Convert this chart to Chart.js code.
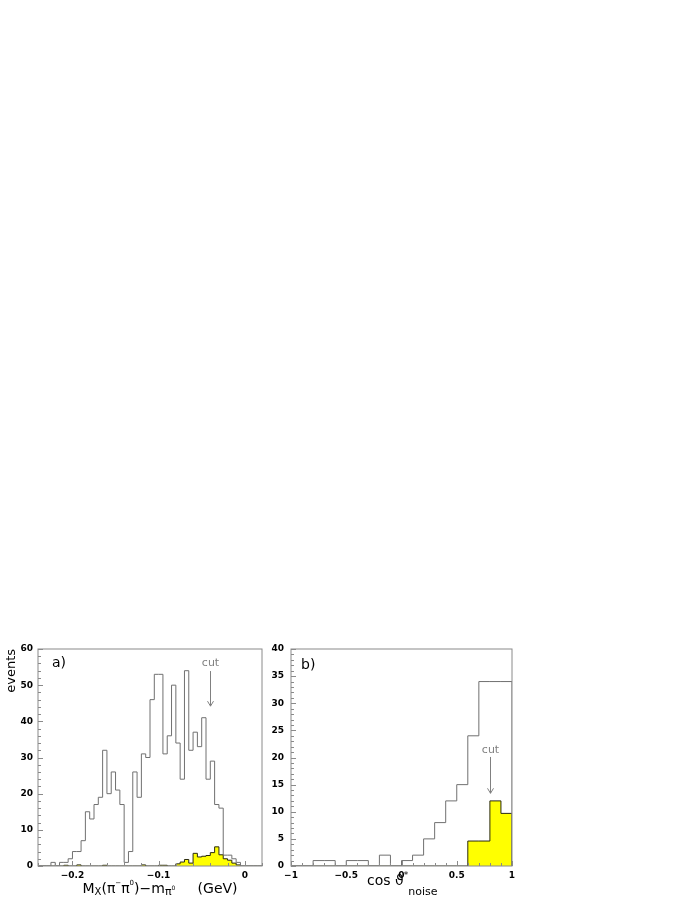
<!DOCTYPE html>
<html>
<head>
<meta charset="utf-8">
<script src="https://cdn.jsdelivr.net/npm/chart.js@4.4.0/dist/chart.umd.min.js"></script>
<style>
  body { margin: 0; width: 698px; height: 903px; background: #fff; position: relative; overflow: hidden; }
  canvas { position: absolute; top: 630px; }
</style>
</head>
<body>
<canvas id="chartA" width="270" height="273" style="left:0px"></canvas>
<canvas id="chartB" width="260" height="273" style="left:268px"></canvas>
<script>
/* a) M_X(pi- pi0) - m_pi0, bins of 5 MeV from -0.24 to 0.02 GeV */
const binLoA = -0.24;
const binWidthA = 0.005;
const countsA = [0, 0, 0, 1, 0, 1, 1, 2, 4, 4,
                 7, 15, 13, 17, 19, 32, 20, 26, 21, 17,
                 1, 4, 26, 19, 31, 30, 46, 53, 53, 31,
                 36, 50, 34, 24, 54, 32, 37, 33, 41, 24,
                 29, 17, 16, 3, 3, 2, 1, 0, 0, 0,
                 0, 0];
const signalA = [0, 0, 0, 0, 0, 0, 0.2, 0, 0, 0.3,
                 0, 0, 0, 0, 0, 0.2, 0, 0, 0, 0,
                 0, 0, 0, 0, 0.3, 0, 0, 0, 0.2, 0.2,
                 0, 0, 0.6, 1.1, 1.8, 0.8, 3.5, 2.5, 2.7, 2.9,
                 3.7, 5.3, 3.1, 2.0, 1.6, 0.8, 0.3, 0, 0, 0,
                 0, 0];
const xTicksA = [-0.2, -0.1, 0];
const yTicksA = [0, 10, 20, 30, 40, 50, 60];
const cutA = { x: -0.04, label: 55.3, from: 53.9, to: 44.2 };

/* b) cos theta*_noise, bins of 0.1 */
const binLoB = -1;
const binWidthB = 0.1;
const countsB = [0, 0, 1, 1, 0, 1, 1, 0, 2, 0,
                 1, 2, 5, 8, 12, 15, 24, 34, 34, 34];
const signalB = [0, 0, 0, 0, 0, 0, 0, 0, 0, 0,
                 0, 0, 0, 0, 0, 0, 4.6, 4.6, 12, 9.7];
const xTicksB = [-1, -0.5, 0, 0.5, 1];
const yTicksB = [0, 5, 10, 15, 20, 25, 30, 35, 40];
const cutB = { x: 0.8, label: 20.8, from: 20.1, to: 13.4 };

const FONT = '"DejaVu Sans"';
const frameColor = '#8a8a8a';
const histColor = '#707070';

// puntos de un histograma (escalon) a partir de los contenidos de los bins
const histPoints = (lo, w, counts) => {
    const n = counts.length;
    const pts = [{ x: lo, y: 0 }];
    counts.forEach((c, i) => pts.push({ x: lo + i * w, y: c }));
    pts.push({ x: lo + n * w, y: counts[n - 1] });
    pts.push({ x: lo + n * w, y: 0 });
    return pts;
};

const fmt = (v) => (v === 0 ? '0' : String(+v.toFixed(2)).replace('-', '\u2212'));

// texto con sub/superindices: [texto, tamaño, desplazamiento vertical]
const drawSegments = (ctx, x, y, segs) => {
    segs.forEach(([txt, size, dy]) => {
        ctx.font = size + 'px ' + FONT;
        ctx.fillText(txt, x, y + dy);
        x += ctx.measureText(txt).width;
    });
};

const isMajor = (v, list) => list.some(t => Math.abs(t - v) < 1e-9);

const deco = (o) => ({
    id: 'deco' + o.name,
    afterDatasetsDraw(chart) {
        const { ctx, chartArea: a, scales: { x, y } } = chart;
        ctx.save();
        ctx.strokeStyle = frameColor;
        ctx.lineWidth = 1;
        ctx.strokeRect(a.left, a.top, a.right - a.left, a.bottom - a.top);

        // marcas hacia adentro
        ctx.beginPath();
        for (let i = 0; ; i++) {
            const v = o.xMin + i * o.xMinor;
            if (v > o.xMax + 1e-9) break;
            const px = Math.round(x.getPixelForValue(v)) + 0.5;
            const len = isMajor(v, o.xTicks) ? 5 : 3;
            ctx.moveTo(px, a.bottom);
            ctx.lineTo(px, a.bottom - len);
        }
        for (let i = 0; ; i++) {
            const v = i * o.yMinor;
            if (v > o.yMax + 1e-9) break;
            const py = Math.round(y.getPixelForValue(v)) + 0.5;
            const len = isMajor(v, o.yTicks) ? 5 : 3;
            ctx.moveTo(a.left, py);
            ctx.lineTo(a.left + len, py);
        }
        ctx.stroke();

        // flecha "cut"
        const cx = Math.round(x.getPixelForValue(o.cut.x)) + 0.5;
        const y0 = y.getPixelForValue(o.cut.from);
        const y1 = y.getPixelForValue(o.cut.to);
        ctx.strokeStyle = '#808080';
        ctx.fillStyle = '#808080';
        ctx.font = '11px ' + FONT;
        ctx.textAlign = 'center';
        ctx.textBaseline = 'alphabetic';
        ctx.fillText('cut', cx, y.getPixelForValue(o.cut.label));
        ctx.beginPath();
        ctx.moveTo(cx, y0);
        ctx.lineTo(cx, y1);
        ctx.moveTo(cx - 3, y1 - 5);
        ctx.lineTo(cx, y1);
        ctx.lineTo(cx + 3, y1 - 5);
        ctx.stroke();

        ctx.fillStyle = '#000';
        ctx.textAlign = 'left';
        o.texts(ctx);
        ctx.restore();
    }
});

const tickFont = { family: 'DejaVu Sans', size: 9, weight: 'bold' };

const makePanel = (id, o) => new Chart(document.getElementById(id), {
    type: 'line',
    data: {
        datasets: [
            {
                data: histPoints(o.lo, o.w, o.counts),
                stepped: true,
                borderColor: histColor,
                borderWidth: 1,
                pointRadius: 0,
                fill: false
            },
            {
                data: histPoints(o.lo, o.w, o.signal),
                stepped: true,
                borderColor: '#2a2a10',
                borderWidth: 1,
                pointRadius: 0,
                fill: 'origin',
                backgroundColor: '#ffff00'
            }
        ]
    },
    options: {
        responsive: false,
        animation: false,
        layout: { padding: { top: 19, right: o.padRight, left: 0, bottom: 0 } },
        plugins: { legend: { display: false }, tooltip: { enabled: false } },
        scales: {
            x: {
                type: 'linear',
                min: o.xMin,
                max: o.xMax,
                grid: { display: false, drawTicks: false },
                border: { display: false },
                afterFit: s => { s.height = 37; },
                afterBuildTicks: s => { s.ticks = o.xTicks.map(v => ({ value: v })); },
                ticks: {
                    autoSkip: false, maxRotation: 0, padding: 4, color: '#000',
                    font: tickFont,
                    callback: v => fmt(v)
                }
            },
            y: {
                type: 'linear',
                min: 0,
                max: o.yMax,
                grid: { display: false, drawTicks: false },
                border: { display: false },
                afterFit: s => { s.width = o.yWidth; },
                afterBuildTicks: s => { s.ticks = o.yTicks.map(v => ({ value: v })); },
                ticks: {
                    padding: o.yPad, color: '#000',
                    font: tickFont,
                    callback: v => fmt(v)
                }
            }
        }
    },
    plugins: [deco(o)]
});

makePanel('chartA', {
    name: 'A', lo: binLoA, w: binWidthA, counts: countsA, signal: signalA,
    xMin: -0.24, xMax: 0.02, xMinor: 0.02, xTicks: xTicksA,
    yMax: 60, yMinor: 2, yTicks: yTicksA,
    yWidth: 38, yPad: 5, padRight: 8, cut: cutA,
    texts: (ctx) => {
        ctx.font = '14px ' + FONT;
        ctx.fillText('a)', 52, 36.6);
        ctx.save();
        ctx.translate(15, 19);
        ctx.rotate(-Math.PI / 2);
        ctx.textAlign = 'right';
        ctx.font = '13px ' + FONT;
        ctx.fillText('events', 0, 0);
        ctx.restore();
        drawSegments(ctx, 82.5, 263, [
            ['M', 14, 0], ['X', 10, 2], ['(\u03c0', 14, 0], ['\u2212', 7, -8],
            ['\u03c0', 14, 0], ['0', 7, -8], [')', 14, 0], ['\u2212', 14, 0],
            ['m', 14, 0], ['\u03c0', 11, 2], ['0', 6, -3], ['     (GeV)', 14, 0]
        ]);
    }
});

makePanel('chartB', {
    name: 'B', lo: binLoB, w: binWidthB, counts: countsB, signal: signalB,
    xMin: -1, xMax: 1, xMinor: 0.1, xTicks: xTicksB,
    yMax: 40, yMinor: 1, yTicks: yTicksB,
    yWidth: 23, yPad: 7, padRight: 16, cut: cutB,
    texts: (ctx) => {
        ctx.font = '14px ' + FONT;
        ctx.fillText('b)', 33, 38.6);
        drawSegments(ctx, 99, 255, [
            ['cos ', 14, 0], ['\u03d1', 14, 0], ['*', 9, -7], ['noise', 11, 10]
        ]);
    }
});
</script>
</body>
</html>
